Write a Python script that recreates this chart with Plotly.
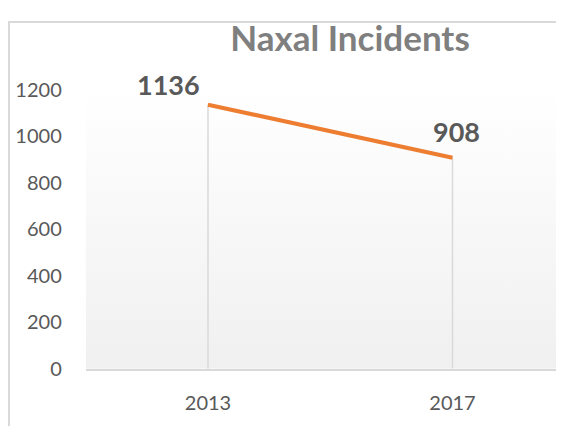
import plotly.graph_objects as go

years = ["2013", "2017"]
incidents = [1136, 908]
y_ticks = [0, 200, 400, 600, 800, 1000, 1200]

# page body keeps an 8px margin, so the figure is sized to fit inside the window
W, H = 548, 418
FONT = "Lato, 'Open Sans', sans-serif"
x_pos = list(range(len(years)))

PLOT_L = 77.75      # left edge of plot area
CAT_W = 244.5       # width of one category slot
Y0_PX, Y1200_PX = 369, 73

x_right = (W - PLOT_L) / CAT_W - 0.5

fig = go.Figure()

# soft vertical gradient behind the plot area (Excel style)
fig.add_trace(go.Scatter(
    x=[-0.5, x_right, x_right, -0.5], y=[0, 0, 1200, 1200],
    mode="none", fill="toself",
    fillgradient=dict(type="vertical", colorscale=[[0, "#f0f0f0"], [1, "#ffffff"]]),
    hoverinfo="skip", showlegend=False,
))

# line + drop lines (error bars down to zero)
fig.add_trace(go.Scatter(
    x=x_pos, y=incidents,
    mode="lines",
    line=dict(color="#ed7d31", width=4),
    error_y=dict(type="data", symmetric=False, array=[0] * len(incidents),
                 arrayminus=incidents, color="#d9d9d9", thickness=1.5, width=0),
    cliponaxis=False,
    showlegend=False,
))

# data labels
label_shift = [(-40, 20), (4, 26)]
for xp, v, (dx, dy) in zip(x_pos, incidents, label_shift):
    fig.add_annotation(
        x=xp, y=v, text=f"<b>{v}</b>", showarrow=False,
        xshift=dx, yshift=dy,
        font=dict(family=FONT, size=27, color="#595959"),
    )

fig.update_layout(
    width=W, height=H,
    margin=dict(l=0, r=0, t=0, b=0),
    paper_bgcolor="white",
    plot_bgcolor="rgba(0,0,0,0)",
    font=dict(family=FONT, color="#595959", size=16),
    title=dict(text="<b>Naxal Incidents</b>", x=342 / W, xanchor="center",
               y=1 - 31 / H, yanchor="middle",
               font=dict(family=FONT, size=35, color="#7f7f7f")),
    xaxis=dict(
        domain=[PLOT_L / W, 1],
        range=[-0.5, x_right],
        tickvals=x_pos, ticktext=years,
        showgrid=False, zeroline=False,
        showline=True, linecolor="#d9d9d9", linewidth=1.5,
        ticks="", ticklabelstandoff=15,
        tickfont=dict(family=FONT, size=20, color="#595959"),
    ),
    yaxis=dict(
        domain=[(H - Y0_PX) / H, (H - Y1200_PX) / H],
        range=[0, 1200], tickvals=y_ticks,
        showgrid=False, zeroline=False, showline=False,
        ticks="", ticklabelstandoff=23,
        tickfont=dict(family=FONT, size=20, color="#595959"),
    ),
    shapes=[dict(type="rect", xref="paper", yref="paper",
                 x0=1 / W, x1=1.1, y0=-0.1, y1=1 - 1 / H,
                 line=dict(color="#d9d9d9", width=2), layer="below")],
)

fig.write_html("out.html")
